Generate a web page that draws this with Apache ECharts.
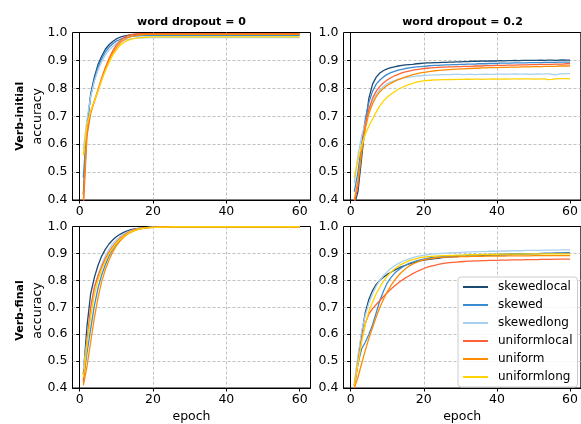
<!DOCTYPE html>
<html>
<head>
<meta charset="utf-8">
<script src="https://cdn.jsdelivr.net/npm/echarts@6/dist/echarts.min.js"></script>
<style>
html,body{margin:0;padding:0;background:#fff;}
#chart{width:581px;height:424px;}
</style>
</head>
<body>
<div id="chart"></div>
<script>
const epochs = [1,2,3,4,5,6,7,8,9,10,11,12,13,14,15,16,17,18,19,20,21,22,23,24,25,26,27,28,29,30,31,32,33,34,35,36,37,38,39,40,41,42,43,44,45,46,47,48,49,50,51,52,53,54,55,56,57,58,59,60];
const seriesNames = ['skewedlocal','skewed','skewedlong','uniformlocal','uniform','uniformlong'];
const colTitles = ['word dropout = 0','word dropout = 0.2'];
const rowTitles = ['Verb-initial','Verb-final'];
const xTicks = [0,20,40,60];

// Verb-initial, word dropout = 0
const tl_skewedlocal = [0.42,0.66,0.78,0.84,0.885,0.915,0.94,0.956,0.968,0.977,0.983,0.987,0.99,0.992,0.993,0.994,0.994,0.995,0.995,0.995,
0.995,0.995,0.995,0.995,0.995,0.995,0.995,0.995,0.995,0.995,0.995,0.995,0.995,0.995,0.995,0.995,0.995,0.995,0.995,0.995,
0.995,0.995,0.995,0.995,0.995,0.995,0.995,0.995,0.995,0.995,0.995,0.995,0.995,0.995,0.995,0.995,0.995,0.995,0.995,0.995];
const tl_skewed = [0.48,0.67,0.77,0.83,0.875,0.905,0.93,0.947,0.96,0.969,0.975,0.98,0.983,0.985,0.987,0.988,0.989,0.989,0.99,0.99,
0.99,0.99,0.99,0.99,0.99,0.99,0.99,0.99,0.99,0.99,0.99,0.99,0.99,0.99,0.99,0.99,0.99,0.99,0.99,0.99,
0.99,0.99,0.99,0.99,0.99,0.99,0.99,0.99,0.99,0.99,0.99,0.99,0.99,0.99,0.99,0.99,0.99,0.99,0.99,0.99];
const tl_skewedlong = [0.58,0.69,0.77,0.825,0.865,0.895,0.92,0.937,0.95,0.96,0.967,0.972,0.975,0.977,0.979,0.98,0.981,0.981,0.982,0.982,
0.982,0.982,0.982,0.982,0.982,0.982,0.982,0.982,0.982,0.982,0.982,0.982,0.982,0.982,0.982,0.982,0.982,0.982,0.982,0.982,
0.982,0.982,0.982,0.982,0.982,0.982,0.982,0.982,0.982,0.982,0.982,0.982,0.982,0.982,0.982,0.982,0.982,0.982,0.982,0.982];
const tl_uniformlocal = [0.37,0.63,0.71,0.755,0.795,0.837,0.875,0.907,0.934,0.955,0.97,0.981,0.988,0.992,0.994,0.995,0.996,0.996,0.996,0.996,
0.996,0.996,0.996,0.996,0.996,0.996,0.996,0.996,0.996,0.996,0.996,0.996,0.996,0.996,0.996,0.996,0.996,0.996,0.996,0.996,
0.996,0.996,0.996,0.996,0.996,0.996,0.996,0.996,0.996,0.996,0.996,0.996,0.996,0.996,0.996,0.996,0.996,0.996,0.996,0.996];
const tl_uniform = [0.40,0.65,0.715,0.752,0.79,0.832,0.868,0.9,0.926,0.946,0.962,0.973,0.981,0.986,0.989,0.991,0.992,0.993,0.993,0.993,
0.993,0.993,0.993,0.993,0.993,0.993,0.993,0.993,0.993,0.993,0.993,0.993,0.993,0.993,0.993,0.993,0.993,0.993,0.993,0.993,
0.993,0.993,0.993,0.993,0.993,0.993,0.993,0.993,0.993,0.993,0.993,0.993,0.993,0.993,0.993,0.993,0.993,0.993,0.993,0.993];
const tl_uniformlong = [0.56,0.67,0.72,0.755,0.79,0.828,0.862,0.892,0.918,0.938,0.953,0.964,0.971,0.976,0.979,0.981,0.982,0.983,0.984,0.984,
0.984,0.984,0.984,0.984,0.984,0.984,0.984,0.984,0.984,0.984,0.984,0.984,0.984,0.984,0.984,0.984,0.984,0.984,0.984,0.984,
0.984,0.984,0.984,0.984,0.984,0.984,0.984,0.984,0.984,0.984,0.984,0.984,0.984,0.984,0.984,0.984,0.984,0.984,0.984,0.984];

// Verb-initial, word dropout = 0.2
const tr_skewedlocal = [0.38,0.43,0.55,0.67,0.765,0.815,0.84,0.855,0.864,0.87,0.874,0.877,0.88,0.882,0.884,0.885,0.886,0.888,0.889,0.89,
0.891,0.891,0.892,0.892,0.893,0.893,0.894,0.894,0.895,0.895,0.896,0.896,0.897,0.897,0.897,0.898,0.897,0.898,0.898,0.898,
0.899,0.898,0.899,0.899,0.9,0.899,0.9,0.9,0.9,0.9,0.9,0.901,0.9,0.901,0.901,0.9,0.901,0.902,0.901,0.901];
const tr_skewed = [0.43,0.50,0.60,0.69,0.75,0.79,0.815,0.83,0.841,0.85,0.856,0.861,0.865,0.868,0.871,0.873,0.875,0.877,0.878,0.879,
0.88,0.881,0.882,0.882,0.883,0.884,0.884,0.885,0.885,0.886,0.886,0.887,0.887,0.887,0.888,0.888,0.888,0.889,0.889,0.889,
0.89,0.89,0.89,0.89,0.891,0.891,0.891,0.891,0.892,0.892,0.892,0.892,0.893,0.893,0.893,0.893,0.894,0.894,0.894,0.894];
const tr_skewedlong = [0.46,0.56,0.63,0.675,0.72,0.755,0.778,0.795,0.807,0.816,0.823,0.828,0.832,0.835,0.838,0.84,0.842,0.844,0.845,0.846,
0.847,0.847,0.848,0.848,0.849,0.849,0.849,0.85,0.85,0.85,0.849,0.85,0.85,0.849,0.85,0.85,0.851,0.85,0.85,0.851,
0.851,0.85,0.851,0.851,0.852,0.851,0.851,0.852,0.85,0.851,0.852,0.851,0.852,0.852,0.85,0.848,0.851,0.853,0.853,0.853];
const tr_uniformlocal = [0.39,0.45,0.58,0.67,0.725,0.765,0.79,0.807,0.82,0.83,0.838,0.845,0.85,0.855,0.859,0.862,0.865,0.867,0.869,0.871,
0.872,0.873,0.874,0.875,0.876,0.876,0.877,0.877,0.878,0.878,0.879,0.879,0.879,0.88,0.88,0.88,0.881,0.881,0.881,0.882,
0.882,0.882,0.883,0.883,0.883,0.884,0.884,0.884,0.885,0.885,0.885,0.886,0.886,0.886,0.886,0.887,0.887,0.887,0.888,0.888];
const tr_uniform = [0.40,0.47,0.57,0.655,0.71,0.745,0.77,0.788,0.8,0.81,0.818,0.825,0.831,0.836,0.841,0.845,0.849,0.852,0.855,0.857,
0.859,0.861,0.863,0.864,0.865,0.866,0.867,0.868,0.869,0.87,0.87,0.871,0.871,0.872,0.872,0.873,0.873,0.874,0.874,0.874,
0.875,0.875,0.875,0.876,0.876,0.876,0.877,0.877,0.877,0.878,0.878,0.878,0.879,0.879,0.879,0.879,0.88,0.88,0.88,0.88];
const tr_uniformlong = [0.48,0.545,0.595,0.635,0.665,0.69,0.715,0.738,0.755,0.768,0.779,0.788,0.796,0.803,0.809,0.814,0.818,0.822,0.825,0.827,
0.828,0.829,0.83,0.83,0.831,0.831,0.832,0.831,0.832,0.832,0.832,0.833,0.832,0.833,0.833,0.832,0.833,0.833,0.834,0.833,
0.833,0.834,0.833,0.834,0.834,0.833,0.834,0.834,0.834,0.833,0.833,0.834,0.834,0.831,0.832,0.834,0.835,0.835,0.835,0.834];

// Verb-final, word dropout = 0
const bl_skewedlocal = [0.45,0.63,0.75,0.81,0.855,0.89,0.915,0.935,0.95,0.962,0.971,0.978,0.984,0.988,0.991,0.993,0.995,0.996,0.997,0.998,
0.998,0.998,0.999,0.999,0.999,0.999,0.999,0.999,0.999,0.999,0.999,0.999,0.999,0.999,0.999,0.999,0.999,0.999,0.999,0.999,
0.999,0.999,0.999,0.999,0.999,0.999,0.999,0.999,0.999,0.999,0.999,0.999,0.999,0.999,0.999,0.999,0.999,0.999,0.999,0.999];
const bl_skewed = [0.43,0.53,0.62,0.705,0.77,0.82,0.858,0.89,0.915,0.935,0.95,0.963,0.973,0.98,0.986,0.99,0.993,0.995,0.996,0.997,
0.998,0.998,0.998,0.999,0.999,0.999,0.999,0.999,0.999,0.999,0.999,0.999,0.999,0.999,0.999,0.999,0.999,0.999,0.999,0.999,
0.999,0.999,0.999,0.999,0.999,0.999,0.999,0.999,0.999,0.999,0.999,0.999,0.999,0.999,0.999,0.999,0.999,0.999,0.999,0.999];
const bl_skewedlong = [0.47,0.58,0.69,0.765,0.82,0.86,0.89,0.915,0.935,0.95,0.962,0.972,0.979,0.985,0.989,0.992,0.994,0.996,0.997,0.998,
0.998,0.998,0.999,0.999,0.999,0.999,0.999,0.999,0.999,0.999,0.999,0.999,0.999,0.999,0.999,0.999,0.999,0.999,0.999,0.999,
0.999,0.999,0.999,0.999,0.999,0.999,0.999,0.999,0.999,0.999,0.999,0.999,0.999,0.999,0.999,0.999,0.999,0.999,0.999,0.999];
const bl_uniformlocal = [0.42,0.57,0.70,0.775,0.815,0.85,0.88,0.905,0.925,0.942,0.956,0.967,0.976,0.983,0.988,0.992,0.994,0.996,0.997,0.998,
0.998,0.998,0.999,0.999,0.999,0.999,0.999,0.999,0.999,0.999,0.999,0.999,0.999,0.999,0.999,0.999,0.999,0.999,0.999,0.999,
0.999,0.999,0.999,0.999,0.999,0.999,0.999,0.999,0.999,0.999,0.999,0.999,0.999,0.999,0.999,0.999,0.999,0.999,0.999,0.999];
const bl_uniform = [0.41,0.48,0.57,0.66,0.735,0.795,0.84,0.875,0.905,0.928,0.946,0.96,0.971,0.979,0.985,0.989,0.992,0.994,0.996,0.997,
0.997,0.998,0.998,0.998,0.999,0.999,0.999,0.999,0.999,0.999,0.999,0.999,0.999,0.999,0.999,0.999,0.999,0.999,0.999,0.999,
0.999,0.999,0.999,0.999,0.999,0.999,0.999,0.999,0.999,0.999,0.999,0.999,0.999,0.999,0.999,0.999,0.999,0.999,0.999,0.999];
const bl_uniformlong = [0.44,0.56,0.665,0.745,0.8,0.84,0.872,0.898,0.92,0.938,0.952,0.964,0.973,0.981,0.986,0.99,0.993,0.995,0.996,0.997,
0.997,0.998,0.998,0.998,0.999,0.999,0.999,0.999,0.999,0.999,0.999,0.999,0.999,0.999,0.999,0.999,0.999,0.999,0.999,0.999,
0.999,0.999,0.999,0.999,0.999,0.999,0.999,0.999,0.999,0.999,0.999,0.999,0.999,0.999,0.999,0.999,0.999,0.999,0.999,0.999];

// Verb-final, word dropout = 0.2
const br_skewedlocal = [0.41,0.50,0.60,0.68,0.73,0.762,0.785,0.8,0.812,0.822,0.83,0.838,0.845,0.851,0.856,0.861,0.865,0.869,0.872,0.875,
0.877,0.879,0.881,0.882,0.884,0.885,0.886,0.887,0.888,0.889,0.889,0.89,0.89,0.891,0.892,0.892,0.893,0.893,0.894,0.894,
0.895,0.895,0.896,0.896,0.897,0.897,0.897,0.898,0.898,0.899,0.899,0.899,0.9,0.9,0.9,0.901,0.901,0.901,0.902,0.902];
const br_skewed = [0.41,0.49,0.545,0.57,0.60,0.635,0.68,0.725,0.76,0.79,0.81,0.826,0.838,0.848,0.856,0.863,0.868,0.872,0.876,0.879,
0.882,0.884,0.886,0.887,0.888,0.889,0.89,0.891,0.892,0.892,0.893,0.893,0.894,0.894,0.895,0.895,0.895,0.896,0.896,0.896,
0.897,0.897,0.897,0.898,0.898,0.898,0.898,0.899,0.899,0.899,0.899,0.9,0.9,0.9,0.9,0.9,0.901,0.901,0.901,0.901];
const br_skewedlong = [0.42,0.52,0.61,0.67,0.715,0.75,0.778,0.80,0.818,0.832,0.844,0.854,0.862,0.869,0.875,0.88,0.884,0.888,0.891,0.893,
0.895,0.897,0.898,0.899,0.9,0.901,0.902,0.903,0.903,0.904,0.905,0.905,0.906,0.906,0.907,0.907,0.907,0.908,0.908,0.908,
0.909,0.909,0.909,0.91,0.91,0.91,0.91,0.911,0.911,0.911,0.911,0.911,0.912,0.912,0.912,0.912,0.912,0.913,0.913,0.913];
const br_uniformlocal = [0.40,0.49,0.58,0.64,0.675,0.695,0.71,0.725,0.74,0.754,0.767,0.779,0.79,0.80,0.809,0.817,0.825,0.832,0.838,0.844,
0.849,0.853,0.856,0.859,0.862,0.864,0.866,0.867,0.868,0.869,0.87,0.871,0.871,0.872,0.872,0.873,0.873,0.874,0.874,0.874,
0.875,0.875,0.875,0.876,0.876,0.876,0.876,0.877,0.877,0.877,0.877,0.878,0.878,0.878,0.878,0.879,0.879,0.879,0.879,0.879];
const br_uniform = [0.40,0.44,0.49,0.54,0.585,0.625,0.665,0.70,0.73,0.757,0.78,0.80,0.817,0.831,0.843,0.853,0.861,0.867,0.872,0.876,
0.879,0.881,0.883,0.884,0.885,0.886,0.886,0.887,0.887,0.888,0.888,0.888,0.889,0.889,0.889,0.889,0.89,0.89,0.89,0.89,
0.89,0.89,0.891,0.891,0.891,0.891,0.891,0.891,0.891,0.892,0.892,0.892,0.892,0.892,0.892,0.892,0.892,0.892,0.892,0.892];
const br_uniformlong = [0.41,0.49,0.57,0.635,0.685,0.72,0.75,0.775,0.797,0.815,0.83,0.842,0.852,0.86,0.867,0.873,0.877,0.881,0.884,0.886,
0.888,0.889,0.89,0.891,0.892,0.892,0.893,0.893,0.894,0.894,0.894,0.895,0.895,0.895,0.895,0.896,0.896,0.896,0.896,0.896,
0.897,0.897,0.897,0.897,0.897,0.897,0.897,0.898,0.898,0.898,0.898,0.898,0.898,0.898,0.898,0.898,0.898,0.898,0.898,0.898];

const panels = [
  [tl_skewedlocal, tl_skewed, tl_skewedlong, tl_uniformlocal, tl_uniform, tl_uniformlong],
  [tr_skewedlocal, tr_skewed, tr_skewedlong, tr_uniformlocal, tr_uniform, tr_uniformlong],
  [bl_skewedlocal, bl_skewed, bl_skewedlong, bl_uniformlocal, bl_uniform, bl_uniformlong],
  [br_skewedlocal, br_skewed, br_skewedlong, br_uniformlocal, br_uniform, br_uniformlong]
];

const colors = ['#1b4a72','#3b8bd0','#a9d0ef','#ff6236','#ff8c00','#ffd400'];
const FONT = 'DejaVu Sans';

const gridPos = [
  {left: 72.5, top: 32.5, width: 238, height: 167.5},
  {left: 343.5, top: 32.5, width: 238, height: 167.5},
  {left: 72.5, top: 226.5, width: 238, height: 168},
  {left: 343.5, top: 226.5, width: 238, height: 168}
];

const grids = gridPos.map(g => Object.assign({show: true, borderColor: '#000', borderWidth: 1, backgroundColor: '#fff'}, g));

const splitStyle = {show: true, showMinLine: false, showMaxLine: false, lineStyle: {color: '#b0b0b0', type: [3, 2], width: 0.8}};

const xAxes = gridPos.map((g, i) => ({
  type: 'value', gridIndex: i, min: -1.95, max: 62.95,
  name: i >= 2 ? 'epoch' : '', nameLocation: 'middle', nameGap: 22,
  nameTextStyle: {fontFamily: FONT, fontSize: 12.5, color: '#000'},
  axisLine: {show: true, lineStyle: {color: '#000', width: 1}},
  axisTick: {show: true, length: 3.5, customValues: xTicks, lineStyle: {color: '#000'}},
  axisLabel: {customValues: xTicks, fontFamily: FONT, fontSize: 12.5, color: '#000', margin: 5},
  splitLine: splitStyle
}));

const yAxes = gridPos.map((g, i) => ({
  type: 'value', gridIndex: i, min: 0.4, max: 1.0, interval: 0.1,
  axisLine: {show: true, lineStyle: {color: '#000', width: 1}},
  axisTick: {show: true, length: 3.5, lineStyle: {color: '#000'}},
  axisLabel: {fontFamily: FONT, fontSize: 12.5, color: '#000', margin: 5, formatter: v => v.toFixed(1)},
  splitLine: splitStyle
}));

const series = [];
panels.forEach((p, pi) => {
  p.forEach((vals, si) => {
    series.push({
      type: 'line', name: seriesNames[si], xAxisIndex: pi, yAxisIndex: pi,
      data: epochs.map((e, k) => [e, vals[k]]),
      symbol: 'none', clip: true, silent: true, animation: false,
      lineStyle: {color: colors[si], width: 1.3},
      itemStyle: {color: colors[si]},
      z: 2 + si
    });
  });
});

const graphics = [];
colTitles.forEach((t, i) => {
  const g = gridPos[i];
  graphics.push({type: 'text', x: g.left + g.width / 2, y: 22,
    style: {text: t, fontFamily: FONT, fontWeight: 'bold', fontSize: 11, fill: '#000', textAlign: 'center', textVerticalAlign: 'middle'}});
});
rowTitles.forEach((t, i) => {
  const g = gridPos[i * 2];
  const cy = g.top + g.height / 2;
  graphics.push({type: 'text', x: 20, y: cy, rotation: Math.PI / 2,
    style: {text: t, fontFamily: FONT, fontWeight: 'bold', fontSize: 11, fill: '#000', textAlign: 'center', textVerticalAlign: 'middle'}});
  graphics.push({type: 'text', x: 38, y: cy, rotation: Math.PI / 2,
    style: {text: 'accuracy', fontFamily: FONT, fontSize: 12.5, fill: '#000', textAlign: 'center', textVerticalAlign: 'middle'}});
});

const chart = echarts.init(document.getElementById('chart'), null, {renderer: 'canvas'});
chart.setOption({
  animation: false,
  backgroundColor: '#fff',
  grid: grids,
  xAxis: xAxes,
  yAxis: yAxes,
  legend: {
    data: seriesNames.map((n, i) => ({name: n, icon: 'rect', itemStyle: {color: colors[i]}})),
    orient: 'vertical', left: 458, top: 277,
    itemWidth: 25, itemHeight: 2, itemGap: 6,
    padding: [4, 5, 4, 5],
    backgroundColor: 'rgba(255,255,255,0.85)', borderColor: '#cccccc', borderWidth: 1, borderRadius: 3,
    textStyle: {fontFamily: FONT, fontSize: 12, color: '#000', padding: [0, 0, 0, 5]},
    selectedMode: false
  },
  graphic: graphics,
  series: series
});
</script>
</body>
</html>
